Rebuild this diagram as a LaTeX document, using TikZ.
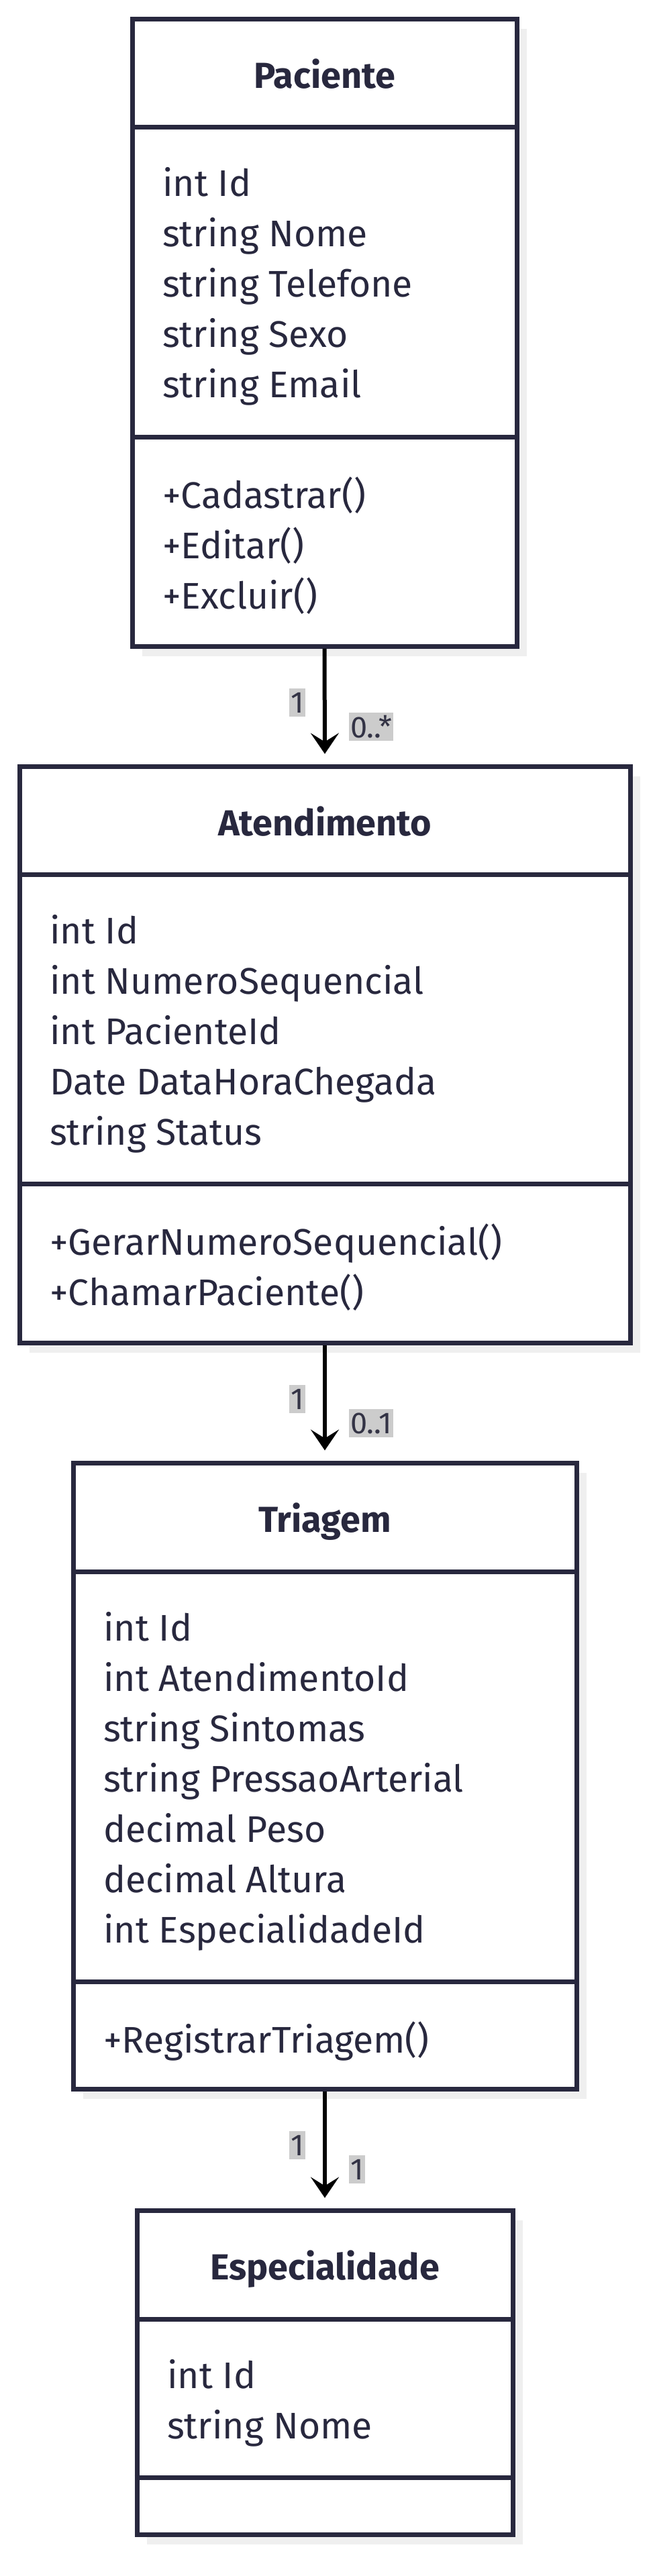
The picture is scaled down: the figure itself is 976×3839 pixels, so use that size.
\documentclass[tikz,border=0pt]{standalone}
\usepackage{fontspec}
\setmainfont{Fira Sans}
\usetikzlibrary{arrows.meta,shadows}
\definecolor{ink}{HTML}{28283E}
\definecolor{shadowgray}{HTML}{EFEFEF}
\definecolor{labelgray}{HTML}{CCCCCC}
\definecolor{labink}{HTML}{333345}
\setbox0=\hbox{\fontsize{10pt}{12pt}\selectfont string PressaoArterial}
\pgfmathsetmacro\basesize{5620/\the\wd0}
\pgfmathsetmacro\regsize{0.955*\basesize}
\setbox0=\hbox{\fontsize{10pt}{12pt}\selectfont\bfseries Atendimento}
\pgfmathsetmacro\titsize{3180/\the\wd0}
\pgfmathsetmacro\labsize{0.78*\basesize}
\newcommand\regfont{\fontsize{\regsize pt}{\regsize pt}\selectfont}
\newcommand\titfont{\fontsize{\titsize pt}{\titsize pt}\selectfont\bfseries}
\newcommand\labfont{\fontsize{\labsize pt}{\labsize pt}\selectfont}
\tikzset{
  classbox/.style={draw=ink, line width=7pt, fill=white, inner sep=0pt,
    general shadow={fill=shadowgray, shadow xshift=15pt, shadow yshift=-15pt}},
  divline/.style={draw=ink, line width=7pt},
  attr/.style={anchor=base west, inner sep=0pt, text=ink, font=\regfont},
  title/.style={anchor=base, inner sep=0pt, text=ink, font=\titfont},
  mult/.style={fill=labelgray, text=labink, font=\labfont, inner xsep=2pt, inner ysep=0pt, minimum height=42pt},
  assoc/.style={draw=black, line width=6pt, -{Stealth[length=31pt,width=42pt,inset=13pt]}},
}
\begin{document}
\begin{tikzpicture}[x=1pt,y=-1pt]
\useasboundingbox (0,0) rectangle (976,3839);
% ---------- Paciente ----------
\node[classbox, minimum width=573pt, minimum height=935pt] (pac) at (483.5,495.5) {};
\draw[divline] (pac.west |- 0,189) -- (pac.east |- 0,189);
\draw[divline] (pac.west |- 0,651) -- (pac.east |- 0,651);
\node[title] (pac-t) at (483.5,131) {Paciente};
\node[attr] (pac-a1) at (242,292.5) {int Id};
\node[attr] (pac-a2) at (242,367.5) {string Nome};
\node[attr] (pac-a3) at (242,442.5) {string Telefone};
\node[attr] (pac-a4) at (242,517.5) {string Sexo};
\node[attr] (pac-a5) at (242,592.5) {string Email};
\node[attr] (pac-m1) at (242,757) {+Cadastrar()};
\node[attr] (pac-m2) at (242,832) {+Editar()};
\node[attr] (pac-m3) at (242,907) {+Excluir()};
% ---------- Atendimento ----------
\node[classbox, minimum width=910pt, minimum height=859pt] (ate) at (484,1571.5) {};
\draw[divline] (ate.west |- 0,1303) -- (ate.east |- 0,1303);
\draw[divline] (ate.west |- 0,1764) -- (ate.east |- 0,1764);
\node[title] (ate-t) at (484,1245) {Atendimento};
\node[attr] (ate-a1) at (74,1406) {int Id};
\node[attr] (ate-a2) at (74,1481) {int NumeroSequencial};
\node[attr] (ate-a3) at (74,1556) {int PacienteId};
\node[attr] (ate-a4) at (74,1631) {Date DataHoraChegada};
\node[attr] (ate-a5) at (74,1706) {string Status};
\node[attr] (ate-m1) at (74,1870) {+GerarNumeroSequencial()};
\node[attr] (ate-m2) at (74,1945) {+ChamarPaciente()};
% ---------- Triagem ----------
\node[classbox, minimum width=750pt, minimum height=933pt] (tri) at (484,2646.5) {};
\draw[divline] (tri.west |- 0,2342) -- (tri.east |- 0,2342);
\draw[divline] (tri.west |- 0,2953) -- (tri.east |- 0,2953);
\node[title] (tri-t) at (484,2283) {Triagem};
\node[attr] (tri-a1) at (154,2445) {int Id};
\node[attr] (tri-a2) at (154,2520) {int AtendimentoId};
\node[attr] (tri-a3) at (154,2595) {string Sintomas};
\node[attr] (tri-a4) at (154,2670) {string PressaoArterial};
\node[attr] (tri-a5) at (154,2745) {decimal Peso};
\node[attr] (tri-a6) at (154,2820) {decimal Altura};
\node[attr] (tri-a7) at (154,2895) {int EspecialidadeId};
\node[attr] (tri-m1) at (154,3059) {+RegistrarTriagem()};
% ---------- Especialidade ----------
\node[classbox, minimum width=560pt, minimum height=483pt] (esp) at (484,3535.5) {};
\draw[divline] (esp.west |- 0,3456) -- (esp.east |- 0,3456);
\draw[divline] (esp.west |- 0,3692) -- (esp.east |- 0,3692);
\node[title] (esp-t) at (484,3397) {Especialidade};
\node[attr] (esp-a1) at (249,3559) {int Id};
\node[attr] (esp-a2) at (249,3634) {string Nome};
% ---------- associations ----------
\draw[assoc] (pac.south) -- ([yshift=15pt]ate.north);
\node[mult, anchor=east] (m1a) at (455,1047) {1};
\node[mult, anchor=west] (m1b) at (520,1083) {0..*};
\draw[assoc] (ate.south) -- ([yshift=15pt]tri.north);
\node[mult, anchor=east] (m2a) at (455,2085) {1};
\node[mult, anchor=west] (m2b) at (520,2121) {0..1};
\draw[assoc] (tri.south) -- ([yshift=15pt]esp.north);
\node[mult, anchor=east] (m3a) at (455,3197) {1};
\node[mult, anchor=west] (m3b) at (520,3233) {1};
\end{tikzpicture}
\end{document}
